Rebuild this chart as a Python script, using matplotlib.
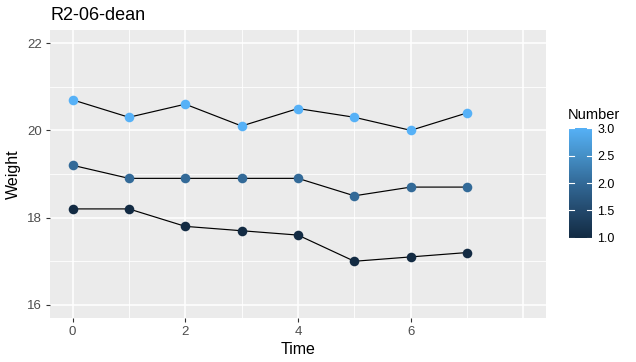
import matplotlib
matplotlib.use("Agg")
import matplotlib.pyplot as plt
import numpy as np
from matplotlib.colors import LinearSegmentedColormap, Normalize

plt.rcParams['font.family'] = ['Liberation Sans', 'DejaVu Sans']

time = [0, 1, 2, 3, 4, 5, 6, 7]
numbers = [1, 2, 3]
weight_1 = [18.2, 18.2, 17.8, 17.7, 17.6, 17.0, 17.1, 17.2]
weight_2 = [19.2, 18.9, 18.9, 18.9, 18.9, 18.5, 18.7, 18.7]
weight_3 = [20.7, 20.3, 20.6, 20.1, 20.5, 20.3, 20.0, 20.4]
series = [weight_1, weight_2, weight_3]
x_ticks = [0, 2, 4, 6, 8]
x_ticklabels = ['0', '2', '4', '6', '']
y_ticks = [16, 18, 20, 22]
legend_ticks = [1.0, 1.5, 2.0, 2.5, 3.0]

cmap = LinearSegmentedColormap.from_list(
    'gg', ['#132B43', '#23496C', '#336A98', '#4590C7', '#56B1F7'])
norm = Normalize(1, 3)

W, H = 636, 362
fig = plt.figure(figsize=(W / 100, H / 100), dpi=100)
fig.patch.set_facecolor('white')

def fx(px):
    return px / W

def fy(py):
    return 1 - py / H

pl, pr, pt, pb = 50, 546, 30, 318
ax = fig.add_axes([fx(pl), fy(pb), (pr - pl) / W, (pb - pt) / H])
ax.set_facecolor('#EBEBEB')
for s in ax.spines.values():
    s.set_visible(False)
ax.set_xlim(-0.4, 8.4)
ax.set_ylim(15.7, 22.3)
ax.set_xticks(x_ticks)
ax.set_xticklabels(x_ticklabels)
ax.set_yticks(y_ticks)
ax.set_xticks([1, 3, 5, 7], minor=True)
ax.set_yticks([17, 19, 21], minor=True)
ax.grid(True, which='major', color='white', linewidth=1.1)
ax.grid(True, which='minor', color='white', linewidth=0.6)
ax.set_axisbelow(True)
ax.tick_params(which='major', length=3, width=0.8, color='#333333',
               labelcolor='#4D4D4D', labelsize=9.5, pad=3)
ax.tick_params(which='minor', length=0)
ax.xaxis.get_major_ticks()[-1].tick1line.set_visible(False)

for num, w in zip(numbers, series):
    ax.plot(time, w, color='black', linewidth=0.85, zorder=2)
    ax.scatter(time, w, s=48, color=cmap(norm(num)), zorder=3, linewidths=0)

ax.set_xlabel('Time', fontsize=11.5, color='black', labelpad=3)
ax.set_ylabel('Weight', fontsize=11.5, color='black', labelpad=4)
ax.set_title('R2-06-dean', loc='left', fontsize=13, color='black', pad=7)

# colorbar legend
cax = fig.add_axes([fx(569), fy(240), 23 / W, 114 / H])
grad = np.linspace(1, 3, 256).reshape(-1, 1)
cax.imshow(grad, aspect='auto', cmap=cmap, norm=norm, origin='lower',
           extent=[0, 1, 1, 3])
cax.set_xlim(0, 1)
cax.set_ylim(0.96, 3.04)
for s in cax.spines.values():
    s.set_visible(False)
cax.set_xticks([])
cax.set_yticks(legend_ticks)
cax.set_yticklabels(['%.1f' % t for t in legend_ticks])
cax.yaxis.tick_right()
cax.tick_params(axis='y', length=0, labelsize=9, labelcolor='black', pad=4)
for t in legend_ticks:
    cax.plot([0, 0.2], [t, t], color='white', linewidth=0.8)
    cax.plot([0.8, 1], [t, t], color='white', linewidth=0.8)
fig.text(fx(568), fy(115), 'Number', fontsize=10.5, color='black',
         ha='left', va='center')

fig.savefig('out.png', dpi=100)
